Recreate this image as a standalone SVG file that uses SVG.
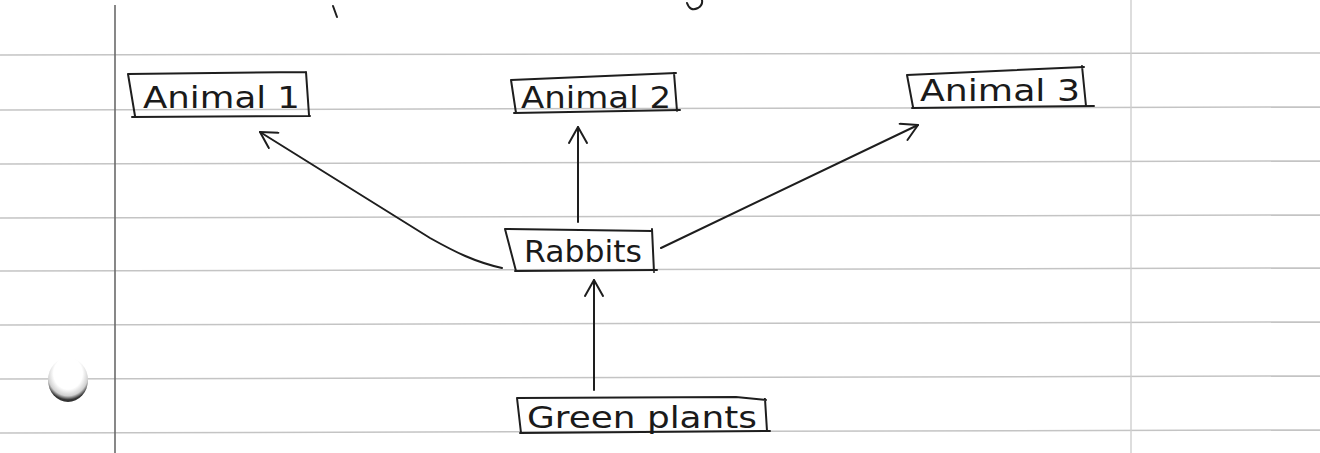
<svg xmlns="http://www.w3.org/2000/svg" width="1320" height="453" viewBox="0 0 1320 453">
  <defs>
    <style>
      .rule { stroke: #c4c4c4; stroke-width: 1.5; fill: none; }
      .margin { stroke: #6a6a6a; stroke-width: 1.6; fill: none; }
      .margin2 { stroke: #cfcfcf; stroke-width: 1.4; fill: none; }
      .box { fill: none; stroke: #1e1e1e; stroke-width: 2; stroke-linejoin: round; stroke-linecap: round; }
      .lbl { font-family: "DejaVu Sans", "Liberation Sans", sans-serif; font-size: 30px; fill: #1a1a1a; font-weight: normal; }
      .edge { fill: none; stroke: #1e1e1e; stroke-width: 2; stroke-linecap: round; }
    </style>
    <marker id="arrow" viewBox="0 0 20 20" refX="18" refY="10" markerWidth="20" markerHeight="20" markerUnits="userSpaceOnUse" orient="auto">
      <path d="M2,1 L18,10 L2,19" fill="none" stroke="#1e1e1e" stroke-width="2" stroke-linecap="round" stroke-linejoin="round"/>
    </marker>
    <radialGradient id="hole" cx="0.5" cy="0.35" r="0.6">
      <stop offset="0.6" stop-color="#ffffff"/>
      <stop offset="0.85" stop-color="#d0d0d0"/>
      <stop offset="1" stop-color="#333333"/>
    </radialGradient>
  </defs>

  <rect width="1320" height="453" fill="#ffffff"/>

  <g id="paper">
    <line class="rule" x1="0" y1="55" x2="1320" y2="53"/>
    <line class="rule" x1="0" y1="110" x2="1320" y2="107"/>
    <line class="rule" x1="0" y1="164" x2="1320" y2="161"/>
    <line class="rule" x1="0" y1="218" x2="1320" y2="215"/>
    <line class="rule" x1="0" y1="271" x2="1320" y2="268"/>
    <line class="rule" x1="0" y1="325" x2="1320" y2="322"/>
    <line class="rule" x1="0" y1="379" x2="1320" y2="376"/>
    <line class="rule" x1="0" y1="433" x2="1320" y2="430"/>
    <line class="margin" x1="115" y1="5" x2="115" y2="453"/>
    <line class="margin2" x1="1131" y1="0" x2="1131" y2="453"/>
    <ellipse cx="68" cy="380" rx="20" ry="22" fill="url(#hole)"/>
    <path class="edge" d="M333,6 L337,17"/>
    <path class="edge" d="M687,3 Q690,12 698,8 Q703,5 702,0"/>
  </g>

  <g id="connectors">
    <path class="edge" d="M594,390 L594,280" marker-end="url(#arrow)"/>
    <path class="edge" d="M578,222 L578,127" marker-end="url(#arrow)"/>
    <path class="edge" d="M502,268 C475,262 455,252 430,238 L260,132" marker-end="url(#arrow)"/>
    <path class="edge" d="M661,248 L918,125" marker-end="url(#arrow)"/>
  </g>

  <g id="node-animal1">
    <path class="box" d="M128,74 L306,72 M306,72 L309,115 M310,116 L132,117 M128,74 L135,116"/>
    <text class="lbl" x="143" y="108" textLength="157" lengthAdjust="spacingAndGlyphs">Animal 1</text>
  </g>

  <g id="node-animal2">
    <path class="box" d="M511,80 L676,73 M674,73 L677,111 M680,110 L514,113 M511,80 L516,113"/>
    <text class="lbl" x="521" y="108" textLength="150" lengthAdjust="spacingAndGlyphs">Animal 2</text>
  </g>

  <g id="node-animal3">
    <path class="box" d="M907,75 L1084,67 M1082,66 L1086,106 M1094,106 L912,108 M907,75 L913,107"/>
    <text class="lbl" x="920" y="101" textLength="160" lengthAdjust="spacingAndGlyphs">Animal 3</text>
  </g>

  <g id="node-rabbits">
    <path class="box" d="M505,229 L652,231 M652,229 L654,272 M657,270 L515,271 M505,229 L516,271"/>
    <text class="lbl" x="524" y="262" textLength="118" lengthAdjust="spacingAndGlyphs">Rabbits</text>
  </g>

  <g id="node-greenplants">
    <path class="box" d="M517,398 L736,397 L766,400 M765,399 L767,431 M770,431 L520,433 M517,398 L521,433"/>
    <text class="lbl" x="527" y="428" textLength="230" lengthAdjust="spacingAndGlyphs">Green plants</text>
  </g>
</svg>
